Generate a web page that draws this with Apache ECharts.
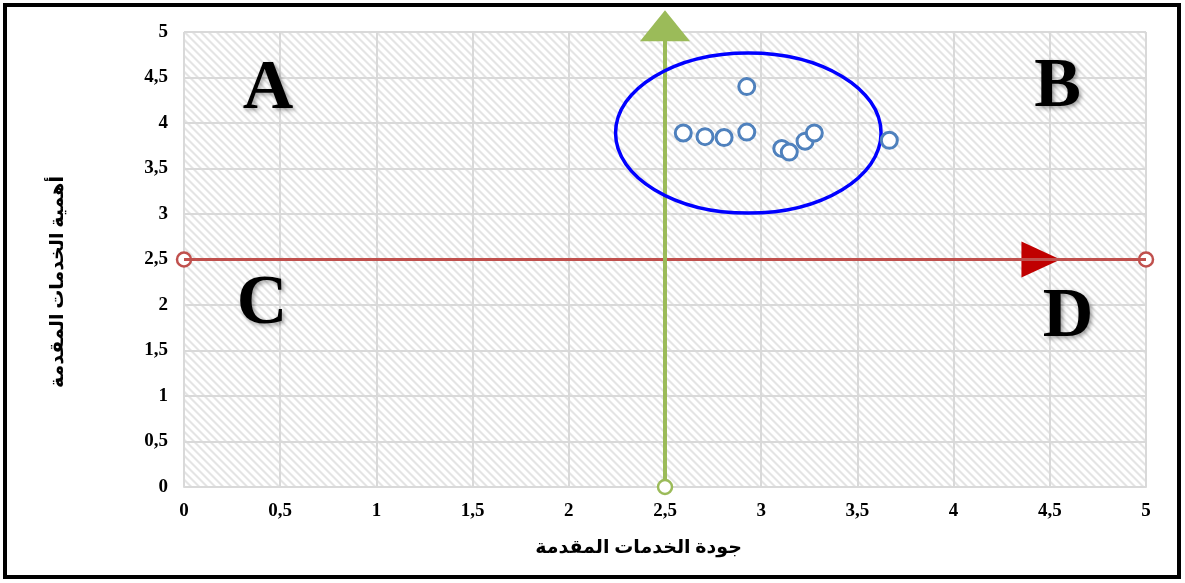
<!DOCTYPE html>
<html><head><meta charset="utf-8">
<script src="https://cdn.jsdelivr.net/npm/echarts@6/dist/echarts.min.js"></script>
<style>html,body{margin:0;padding:0;background:#fff}#c{width:1185px;height:583px}</style>
</head><body><div id="c"></div>
<script>
// Data
const xTicks = [0,0.5,1,1.5,2,2.5,3,3.5,4,4.5,5];
const yTicks = [0,0.5,1,1.5,2,2.5,3,3.5,4,4.5,5];
const quality = [2.925, 2.595, 2.708, 2.807, 2.925, 3.107, 3.146, 3.228, 3.276, 3.666];
const importance = [4.40, 3.89, 3.85, 3.84, 3.90, 3.72, 3.68, 3.80, 3.89, 3.81];
const vLine = [[2.5,0],[2.5,5]];
const hLine = [[0,2.5],[5,2.5]];
const vArrowHead = [2.5, 5.07];
const hArrowHead = [4.454, 2.5];
const quadrantNames = ['A','B','C','D'];
const quadrantPos = [[0.437,4.36],[4.54,4.38],[0.405,2.0],[4.595,1.86]];
const ellipseCenter = [2.933, 3.89];
const ellipseRadii = [0.69, 0.88];
const xTitle = 'جودة الخدمات المقدمة';
const yTitle = 'أهمية الخدمات المقدمة';

// hatch pattern
const N = 8;
const pc = document.createElement('canvas');
pc.width = N; pc.height = N;
const ctx = pc.getContext('2d');
const img = ctx.createImageData(N, N);
for (let y = 0; y < N; y++) for (let x = 0; x < N; x++) {
  const d = ((x - y) % N + N) % N;
  let v = 255;
  if (d < 2) v = 228; else if (d === 2 || d === N-1) v = 242;
  const i = (y*N + x)*4;
  img.data[i]=v; img.data[i+1]=v; img.data[i+2]=v; img.data[i+3]=255;
}
ctx.putImageData(img, 0, 0);

const serif = "'Times New Roman','Liberation Serif','DejaVu Sans',serif";
const chart = echarts.init(document.getElementById('c'), null, {renderer:'canvas'});
const fmt = v => String(v).replace('.', ',');
chart.setOption({
  animation: false,
  grid: {left:184, right:39, top:32, bottom:96, show:true, backgroundColor:{image:pc, repeat:'repeat'}, borderWidth:0},
  xAxis: {type:'value', min:0, max:5, interval:0.5,
    name: xTitle, nameLocation:'middle', nameGap:52,
    nameTextStyle:{fontFamily:serif, fontWeight:'bold', fontSize:19, color:'#000', padding:[0,53,0,0]},
    axisLine:{show:true, lineStyle:{color:'#d9d9d9', width:2}}, axisTick:{show:false},
    axisLabel:{formatter:fmt, fontFamily:serif, fontWeight:'bold', fontSize:19, color:'#000', margin:15},
    splitLine:{show:true, lineStyle:{color:'#d9d9d9', width:2}}},
  yAxis: {type:'value', min:0, max:5, interval:0.5,
    name: yTitle, nameLocation:'middle', nameGap:116,
    nameTextStyle:{fontFamily:serif, fontWeight:'bold', fontSize:19, color:'#000', padding:[0,45,0,0]},
    axisLine:{show:false}, axisTick:{show:false},
    axisLabel:{formatter:fmt, fontFamily:serif, fontWeight:'bold', fontSize:19, color:'#000', margin:16},
    splitLine:{show:true, lineStyle:{color:'#d9d9d9', width:2}}},
  series: [
    {type:'line', data:hLine, symbol:'none', clip:false,
      lineStyle:{color:'#c0504d', width:3}},
    {type:'scatter', data:hLine, symbol:'circle', symbolSize:14, clip:false,
      itemStyle:{color:'#fff', borderColor:'#c0504d', borderWidth:2.5, opacity:1}},
    {type:'scatter', data:[hArrowHead], symbol:'triangle', symbolRotate:-90, symbolSize:[36,39], clip:false,
      itemStyle:{color:'#c00000', opacity:1}},
    {type:'line', data:vLine, symbol:'none', clip:false,
      lineStyle:{color:'#9bbb59', width:4}},
    {type:'scatter', data:[vLine[0]], symbol:'circle', symbolSize:14, clip:false,
      itemStyle:{color:'#fff', borderColor:'#9bbb59', borderWidth:2.5, opacity:1}, z:3},
    {type:'scatter', data:[vArrowHead], symbol:'triangle', symbolSize:[50,31], clip:false,
      itemStyle:{color:'#9bbb59', opacity:1}},
    {type:'scatter', data:quality.map((x,i)=>[x, importance[i]]), symbol:'circle', symbolSize:16,
      itemStyle:{color:'#fff', borderColor:'#4f81bd', borderWidth:3, opacity:1}, z:5},
    {type:'scatter', data:quadrantPos.map((p,i)=>({value:p, name:quadrantNames[i]})), symbolSize:0, silent:true,
      itemStyle:{opacity:1},
      label:{show:true, position:'inside', formatter:p=>p.name, fontFamily:"'Liberation Serif','Times New Roman',serif",
        fontWeight:'bold', fontSize:70, color:'#000', textShadowColor:'rgba(0,0,0,0.4)', textShadowBlur:4, textShadowOffsetX:2, textShadowOffsetY:2}, z:6}
  ]
});

const c0 = chart.convertToPixel({gridIndex:0}, ellipseCenter);
const c1 = chart.convertToPixel({gridIndex:0}, [ellipseCenter[0]+ellipseRadii[0], ellipseCenter[1]+ellipseRadii[1]]);
chart.setOption({graphic:[
  {type:'ellipse', shape:{cx:c0[0], cy:c0[1], rx:Math.abs(c1[0]-c0[0]), ry:Math.abs(c1[1]-c0[1])},
    style:{fill:null, stroke:'#0000ff', lineWidth:3.5}, z:4},
  {type:'rect', shape:{x:5, y:5, width:1174, height:572}, style:{fill:null, stroke:'#000', lineWidth:4}, z:10, silent:true}
]});
</script></body></html>
